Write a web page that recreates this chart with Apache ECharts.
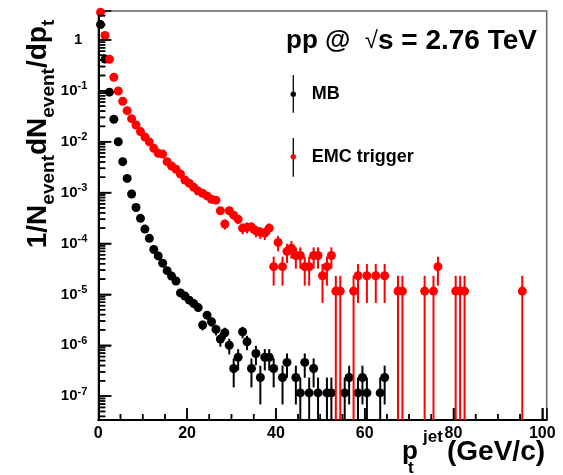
<!DOCTYPE html>
<html><head><meta charset="utf-8">
<script src="https://cdn.jsdelivr.net/npm/echarts@6/dist/echarts.min.js"></script>
<style>html,body{margin:0;padding:0;background:#fff}#c{width:563px;height:475px}</style>
</head><body><div id="c"></div>
<script>
// ---- data (bin centres in GeV/c, yields) ----
const mbX = [0.5,1.5,2.5,3.5,4.5,5.5,6.5,7.5,8.5,9.5,10.5,11.5,12.5,13.5,14.5,15.5,16.5,17.5,18.5,19.5,
  20.5,21.5,22.5,23.5,24.5,25.5,26.5,27.5,28.5,29.5,30.5,31.5,32.5,33.5,34.5,35.5,36.5,37.5,38.5,39.5,
  41.5,42.5,44.5,45.5,46.5,47.5,48.5,49.5,51.5,52.5,55.5,56.5,58.5,59.5,60.5,63.5,64.5];
const mbY = [2.0,0.42,0.094,0.0276,0.0100,4.05e-3,1.9e-3,9.4e-4,5.1e-4,3.12e-4,1.92e-4,1.26e-4,7.6e-5,5.7e-5,4.1e-5,2.92e-5,2.29e-5,1.83e-5,1.07e-5,9.3e-6,
  7.7e-6,6.6e-6,5.5e-6,2.5e-6,3.9e-6,2.9e-6,2.05e-6,1.33e-6,1.76e-6,1.0e-6,3.5e-7,5.8e-7,1.84e-6,1.17e-6,3.5e-7,6.9e-7,2.33e-7,5.8e-7,5.8e-7,3.5e-7,
  2.33e-7,4.6e-7,2.33e-7,1.16e-7,4.6e-7,1.16e-7,3.5e-7,1.16e-7,1.16e-7,1.16e-7,1.16e-7,2.33e-7,1.16e-7,2.33e-7,1.16e-7,1.16e-7,2.33e-7];
const emcX = [0.5,1.5,2.5,3.5,4.5,5.5,6.5,7.5,8.5,9.5,10.5,11.5,12.5,13.5,14.5,15.5,16.5,17.5,18.5,19.5,
  20.5,21.5,22.5,23.5,24.5,25.5,26.5,27.5,28.5,29.5,30.5,31.5,32.5,33.5,34.5,35.5,36.5,37.5,38.5,39.5,
  40.5,41.5,42.5,43.5,44.5,45.5,46.5,47.5,48.5,49.5,50.5,51.5,52.5,53.5,54.5,57.5,58.5,60.5,62.5,64.5,
  67.5,68.5,73.5,75.5,76.5,80.5,81.5,82.5,95.5];
const emcY = [3.5,1.22,0.417,0.185,0.099,0.0624,0.0407,0.0284,0.0213,0.0158,0.0124,0.0099,0.0074,0.0059,0.0057,4.05e-3,3.33e-3,2.87e-3,2.32e-3,1.77e-3,
  1.52e-3,1.27e-3,1.07e-3,9.7e-4,8.6e-4,7.4e-4,7.1e-4,4.4e-4,2.41e-4,4.4e-4,3.6e-4,3.0e-4,2.0e-4,2.08e-4,2.1e-4,1.78e-4,1.66e-4,1.6e-4,2.0e-4,3.5e-5,
  1.05e-4,3.5e-5,7.0e-5,8.1e-5,5.8e-5,5.8e-5,3.5e-5,3.5e-5,5.8e-5,5.8e-5,2.32e-5,3.5e-5,5.8e-5,1.16e-5,1.16e-5,1.16e-5,2.32e-5,2.32e-5,2.32e-5,2.32e-5,
  1.16e-5,1.16e-5,1.16e-5,1.16e-5,3.5e-5,1.16e-5,1.16e-5,1.16e-5,1.16e-5];
// yield corresponding to one entry (for Poisson error bars)
const mbUnit = 1.16e-7;
const emcUnit = 1.16e-5;
// ---- ticks ----
const xTickLabels = [0,20,40,60,80,100];
const xMinorTicks = [5,10,15,25,30,35,45,50,55,65,70,75,85,90,95];
const yTickLabels = [1e-7,1e-6,1e-5,1e-4,1e-3,1e-2,1e-1,1];
const seriesNames = ['MB','EMC trigger'];

const xMin = 0, xMax = 101, yMin = 3.4e-8, yMax = 3.7;
const yMinorTicks = [];
for (let n = -8; n <= 0; n++) for (let k = 2; k <= 9; k++) {
  const v = Number(k + 'e' + n);
  if (v > yMin && v < yMax) yMinorTicks.push(v);
}
const FONT = '"Liberation Sans", Arial, Helvetica, sans-serif';

function errData(xs, ys, unit) {
  return xs.map((x, i) => {
    const e = Math.sqrt(ys[i] * unit);
    return [x, Math.max(ys[i] - e, yMin), Math.min(ys[i] + e, yMax)];
  });
}
function errRender(params, api) {
  const p1 = api.coord([api.value(0), api.value(1)]);
  const p2 = api.coord([api.value(0), api.value(2)]);
  return { type: 'line', shape: { x1: p1[0], y1: p1[1], x2: p2[0], y2: p2[1] },
    style: { stroke: api.visual('color'), lineWidth: 2 } };
}
// tick marks: [x, y, y, direction(0 = vertical up, 1 = horizontal right), length]
const tickData = []
  .concat(xTickLabels.map(v => [v, yMin, yMin, 0, 12]))
  .concat(xMinorTicks.map(v => [v, yMin, yMin, 0, 6]))
  .concat(yTickLabels.map(v => [xMin, v, v, 1, 13]))
  .concat(yMinorTicks.map(v => [xMin, v, v, 1, 7]));
function tickRender(params, api) {
  const p = api.coord([api.value(0), api.value(1)]);
  const len = api.value(4);
  const horiz = api.value(3) === 1;
  return { type: 'line',
    shape: { x1: p[0], y1: p[1], x2: horiz ? p[0] + len : p[0], y2: horiz ? p[1] : p[1] - len },
    style: { stroke: api.visual('color'), lineWidth: 1.5 } };
}
function xLabel(v) { return xTickLabels.indexOf(v) >= 0 ? String(v) : ''; }
function yLabel(v) {
  const hit = yTickLabels.find(t => Math.abs(Math.log10(v) - Math.log10(t)) < 1e-6);
  if (hit === undefined) return '';
  const e = Math.round(Math.log10(hit));
  return e === 0 ? '{one|1}' : '{a|10}{s|' + e + '}';
}

const chart = echarts.init(document.getElementById('c'));
chart.setOption({
  animation: false,
  grid: { left: 98.3, right: 16.3, top: 11, bottom: 55, show: true, borderColor: '#666', borderWidth: 1.5 },
  xAxis: {
    type: 'value', min: xMin, max: xMax, interval: 20, position: 'bottom', splitLine: { show: false },
    axisLine: { onZero: false, lineStyle: { color: '#000', width: 2 } },
    axisTick: { show: true, inside: true, length: 12, lineStyle: { color: '#000', width: 1.5 } },
    axisLabel: { formatter: xLabel, margin: 6, color: '#000', fontSize: 16, fontWeight: 'bold', fontFamily: FONT }
  },
  yAxis: {
    type: 'log', min: yMin, max: yMax, position: 'left', splitLine: { show: false },
    axisLine: { onZero: false, lineStyle: { color: '#000', width: 2 } },
    axisTick: { show: true, inside: true, length: 13, lineStyle: { color: '#000', width: 1.5 } },
    axisLabel: {
      margin: 11, color: '#000', formatter: yLabel,
      rich: {
        a: { fontSize: 15, fontWeight: 'bold', fontFamily: FONT, color: '#000' },
        one: { fontSize: 15, fontWeight: 'bold', fontFamily: FONT, color: '#000', padding: [0, 5, 0, 0] },
        s: { fontSize: 11, fontWeight: 'bold', fontFamily: FONT, color: '#000', padding: [0, 0, 9, 0] }
      }
    }
  },
  series: [
    { name: 'axis ticks', type: 'custom', renderItem: tickRender, clip: true,
      itemStyle: { color: '#000' }, encode: { x: 0, y: [1, 2] }, data: tickData, z: 6 },
    { name: seriesNames[0] + ' err', type: 'custom', renderItem: errRender, clip: true,
      itemStyle: { color: '#000' }, encode: { x: 0, y: [1, 2] }, data: errData(mbX, mbY, mbUnit), z: 2 },
    { name: seriesNames[0], type: 'scatter', symbol: 'circle', symbolSize: 9, clip: true,
      itemStyle: { color: '#000', opacity: 1 }, data: mbX.map((x, i) => [x, mbY[i]]), z: 3 },
    { name: seriesNames[1] + ' err', type: 'custom', renderItem: errRender, clip: true,
      itemStyle: { color: '#ff0000' }, encode: { x: 0, y: [1, 2] }, data: errData(emcX, emcY, emcUnit), z: 4 },
    { name: seriesNames[1], type: 'scatter', symbol: 'circle', symbolSize: 9, clip: true,
      itemStyle: { color: '#ff0000', opacity: 1 }, data: emcX.map((x, i) => [x, emcY[i]]), z: 5 }
  ]
});

// extra minor ticks through the chart's own scales
const tickLines = [];
xMinorTicks.forEach(v => {
  const p = chart.convertToPixel({ gridIndex: 0 }, [v, yMin]);
  if (p && isFinite(p[0]) && isFinite(p[1]))
    tickLines.push({ type: 'line', z: 50, shape: { x1: p[0], y1: p[1], x2: p[0], y2: p[1] - 6 }, style: { stroke: '#000', lineWidth: 1.5 } });
});
yMinorTicks.forEach(v => {
  const p = chart.convertToPixel({ gridIndex: 0 }, [xMin, v]);
  if (p && isFinite(p[0]) && isFinite(p[1]))
    tickLines.push({ type: 'line', z: 50, shape: { x1: p[0], y1: p[1], x2: p[0] + 7, y2: p[1] }, style: { stroke: '#000', lineWidth: 1.5 } });
});

const textStyle = (t, fs) => ({ text: t, fontSize: fs, fontWeight: 'bold', fontFamily: FONT, fill: '#000', verticalAlign: 'middle' });
chart.setOption({
  graphic: [
    // y axis title
    { type: 'text', x: 38, y: 134, rotation: Math.PI / 2, style: {
        text: '{m|1/N}{s|event}{m|dN}{s|event}{m|/dp}{s|t}', align: 'center', verticalAlign: 'middle',
        rich: {
          m: { fontSize: 28, fontWeight: 'bold', fontFamily: FONT, fill: '#000', verticalAlign: 'top', lineHeight: 28 },
          s: { fontSize: 19, fontWeight: 'bold', fontFamily: FONT, fill: '#000', verticalAlign: 'top', lineHeight: 19, padding: [15, 0, 0, 0] }
        } } },
    // x axis title
    { type: 'text', x: 402, y: 452, style: textStyle('p', 26) },
    { type: 'text', x: 408, y: 468, style: textStyle('t', 17) },
    { type: 'text', x: 423, y: 437, style: textStyle('jet', 17) },
    { type: 'text', x: 447, y: 452, style: textStyle('(GeV/c)', 28) },
    // header
    { type: 'text', x: 286, y: 41, style: {
        text: '{b|pp @  }{r|√}{c|s = 2.76 TeV}', verticalAlign: 'middle',
        rich: {
          b: { fontSize: 26, fontWeight: 'bold', fontFamily: FONT, fill: '#000' },
          r: { fontSize: 24, fontWeight: 'normal', fontFamily: FONT, fill: '#000' },
          c: { fontSize: 28, fontWeight: 'bold', fontFamily: FONT, fill: '#000' }
        } } },
    // legend
    { type: 'line', shape: { x1: 293.3, y1: 75, x2: 293.3, y2: 112.7 }, style: { stroke: '#000', lineWidth: 1.3 } },
    { type: 'circle', shape: { cx: 293.3, cy: 94.3, r: 2.7 }, style: { fill: '#000' } },
    { type: 'text', x: 311.7, y: 94.5, style: textStyle(seriesNames[0], 18) },
    { type: 'line', shape: { x1: 293.3, y1: 138, x2: 293.3, y2: 176.7 }, style: { stroke: '#000', lineWidth: 1.3 } },
    { type: 'circle', shape: { cx: 293.3, cy: 156.7, r: 2.7 }, style: { fill: '#ff0000' } },
    { type: 'text', x: 311.7, y: 157, style: textStyle(seriesNames[1], 18) }
  ].concat(tickLines)
});
</script></body></html>
